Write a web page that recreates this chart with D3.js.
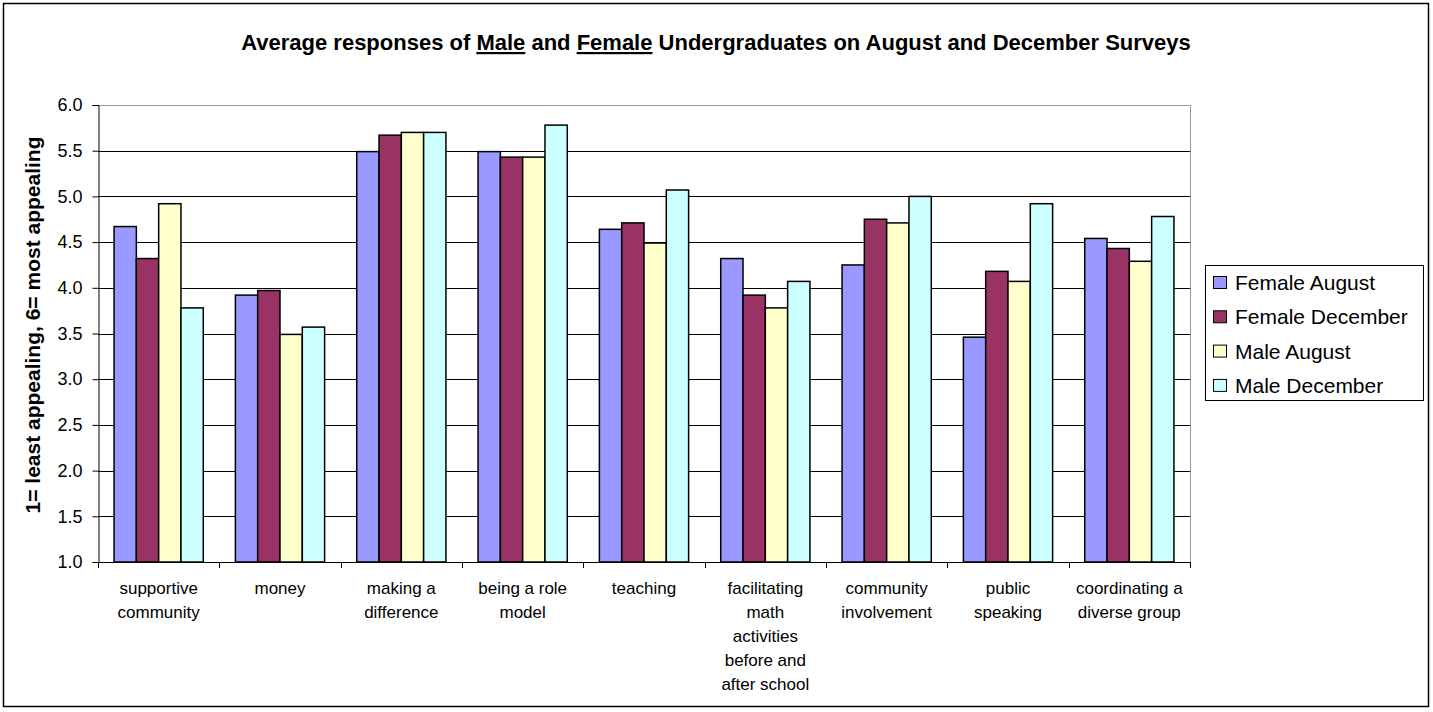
<!DOCTYPE html>
<html>
<head>
<meta charset="utf-8">
<script src="https://cdn.jsdelivr.net/npm/d3@7"></script>
<style>
  body { margin: 0; background: #fff; }
  text { font-family: Arial, "Liberation Sans", sans-serif; }
</style>
</head>
<body>
<div id="chart"></div>
<script>
// categories and series values
var categories = [
  ["supportive", "community"],
  ["money"],
  ["making a", "difference"],
  ["being a role", "model"],
  ["teaching"],
  ["facilitating", "math", "activities", "before and", "after school"],
  ["community", "involvement"],
  ["public", "speaking"],
  ["coordinating a", "diverse group"]
];
var seriesNames = ["Female August", "Female December", "Male August", "Male December"];
var femaleAugust   = [4.67, 3.92, 5.49, 5.49, 4.64, 4.32, 4.25, 3.46, 4.54];
var femaleDecember = [4.32, 3.97, 5.67, 5.43, 4.71, 3.92, 4.75, 4.18, 4.43];
var maleAugust     = [4.92, 3.49, 5.70, 5.43, 4.49, 3.78, 4.71, 4.07, 4.29];
var maleDecember   = [3.78, 3.57, 5.70, 5.78, 5.07, 4.07, 5.00, 4.92, 4.78];
var yTicks = [1.0, 1.5, 2.0, 2.5, 3.0, 3.5, 4.0, 4.5, 5.0, 5.5, 6.0];
var colors = ["#9999ff", "#993366", "#ffffcc", "#ccffff"];

var allSeries = [femaleAugust, femaleDecember, maleAugust, maleDecember];

var W = 1433, H = 712;
var plot = { left: 98, right: 1190, top: 105, bottom: 562 };

var svg = d3.select("#chart").append("svg")
  .attr("width", W)
  .attr("height", H);

// outer frame
svg.append("rect")
  .attr("x", 3.5).attr("y", 3.5)
  .attr("width", 1425).attr("height", 703)
  .attr("fill", "#fff")
  .attr("stroke", "#000")
  .attr("stroke-width", 1.5);

// title, with underlined words
var title = svg.append("text")
  .attr("x", 716)
  .attr("y", 50)
  .attr("text-anchor", "middle")
  .style("font-weight", "bold")
  .style("font-size", "22px");
title.append("tspan").text("Average responses of ");
title.append("tspan").style("text-decoration", "underline").text("Male");
title.append("tspan").text(" and ");
title.append("tspan").style("text-decoration", "underline").text("Female");
title.append("tspan").text(" Undergraduates on August and December Surveys");

// scales
var x0 = d3.scaleBand()
  .domain(d3.range(categories.length))
  .range([plot.left, plot.right])
  .paddingInner(0).paddingOuter(0);

var x1 = d3.scaleBand()
  .domain(d3.range(seriesNames.length))
  .range([0, x0.bandwidth()])
  .paddingInner(0).paddingOuter(0.72);

var y = d3.scaleLinear().domain([1, 6]).range([plot.bottom, plot.top]);

// gridlines
svg.append("g")
  .selectAll("line")
  .data(yTicks.slice(1))
  .enter().append("line")
  .attr("x1", plot.left).attr("x2", plot.right)
  .attr("y1", function(d) { return Math.round(y(d)) + 0.5; })
  .attr("y2", function(d) { return Math.round(y(d)) + 0.5; })
  .attr("stroke", function(d) { return d === 6 ? "#999" : "#000"; })
  .attr("stroke-width", 1);

// plot frame right side
svg.append("line")
  .attr("x1", plot.right + 0.5).attr("x2", plot.right + 0.5)
  .attr("y1", plot.top).attr("y2", plot.bottom)
  .attr("stroke", "#999");

// bars
var groups = svg.append("g")
  .selectAll("g")
  .data(categories)
  .enter().append("g")
  .attr("transform", function(d, i) { return "translate(" + x0(i) + ",0)"; });

groups.selectAll("rect")
  .data(function(d, i) { return allSeries.map(function(s, j) { return { s: j, v: s[i] }; }); })
  .enter().append("rect")
  .attr("x", function(d) { return x1(d.s); })
  .attr("y", function(d) { return y(d.v); })
  .attr("width", x1.bandwidth())
  .attr("height", function(d) { return y(1) - y(d.v); })
  .attr("fill", function(d) { return colors[d.s]; })
  .attr("stroke", "#000")
  .attr("stroke-width", 1.5);

// y axis
var yAxis = d3.axisLeft(y)
  .tickValues(yTicks)
  .tickFormat(d3.format(".1f"))
  .tickSize(6)
  .tickPadding(10);

var ya = svg.append("g")
  .attr("transform", "translate(" + (plot.left + 0.5) + ",0)")
  .call(yAxis);
ya.select(".domain").attr("stroke", "#000");
ya.selectAll("text")
  .style("font-size", "18px")
  .attr("fill", "#000")
  .attr("font-family", null);

// x axis: ticks at category boundaries
var xa = svg.append("g");
xa.append("line")
  .attr("x1", plot.left).attr("x2", plot.right + 1)
  .attr("y1", plot.bottom + 0.5).attr("y2", plot.bottom + 0.5)
  .attr("stroke", "#000");
xa.selectAll(".tick")
  .data(d3.range(categories.length + 1))
  .enter().append("line")
  .attr("x1", function(i) { return Math.round(plot.left + i * x0.step()) + 0.5; })
  .attr("x2", function(i) { return Math.round(plot.left + i * x0.step()) + 0.5; })
  .attr("y1", plot.bottom).attr("y2", plot.bottom + 6)
  .attr("stroke", "#000");

// category labels
var labels = svg.append("g")
  .selectAll("text")
  .data(categories)
  .enter().append("text")
  .attr("text-anchor", "middle")
  .style("font-size", "17px")
  .attr("x", function(d, i) { return x0(i) + x0.bandwidth() / 2; });

labels.selectAll("tspan")
  .data(function(d) { return d; })
  .enter().append("tspan")
  .attr("x", function() { return d3.select(this.parentNode).attr("x"); })
  .attr("y", function(d, i) { return 594 + i * 24; })
  .text(function(d) { return d; });

// y axis title
svg.append("text")
  .attr("transform", "translate(40,325) rotate(-90)")
  .attr("text-anchor", "middle")
  .style("font-weight", "bold")
  .style("font-size", "21px")
  .text("1= least appealing, 6= most appealing");

// legend
var lg = svg.append("g").attr("transform", "translate(1205,265)");
lg.append("rect")
  .attr("x", 0.5).attr("y", 0.5)
  .attr("width", 218).attr("height", 135)
  .attr("fill", "#fff")
  .attr("stroke", "#000");

var items = lg.selectAll(".item")
  .data(seriesNames)
  .enter().append("g")
  .attr("transform", function(d, i) { return "translate(0," + (18 + i * 34.3) + ")"; });

items.append("rect")
  .attr("x", 8.5).attr("y", -6.5)
  .attr("width", 13).attr("height", 12)
  .attr("fill", function(d, i) { return colors[i]; })
  .attr("stroke", "#000");

items.append("text")
  .attr("x", 30)
  .attr("y", 7)
  .style("font-size", "21px")
  .text(function(d) { return d; });
</script>
</body>
</html>
